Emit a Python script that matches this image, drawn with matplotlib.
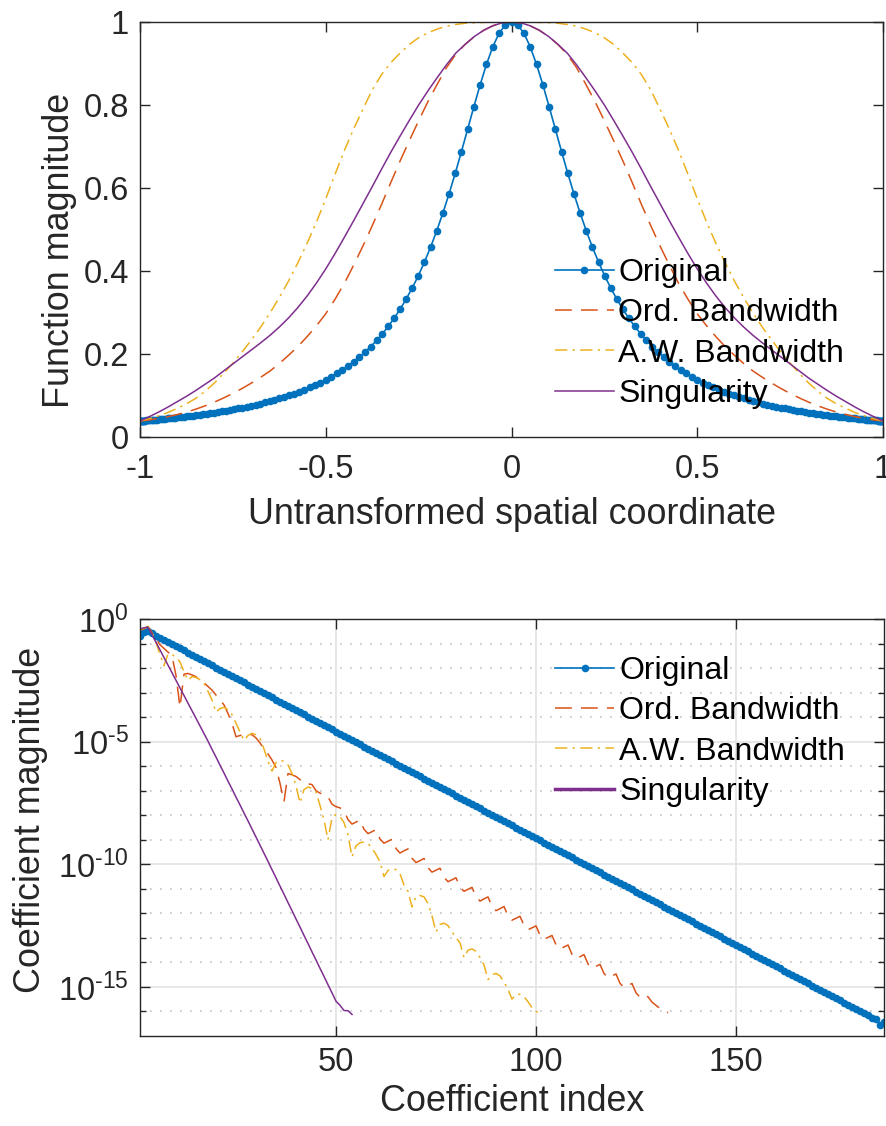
import numpy as np
import matplotlib
matplotlib.use("Agg")
import matplotlib.pyplot as plt

plt.rcParams['font.family'] = ['Liberation Sans', 'DejaVu Sans']
plt.rcParams['axes.unicode_minus'] = False
plt.rcParams['mathtext.fontset'] = 'custom'
plt.rcParams['mathtext.rm'] = 'Liberation Sans'

# ---- top panel: function on [0, 1] (curves are even, mirrored below) ----
cheb_half = [
    0.0000, 0.0169, 0.0338, 0.0506, 0.0675, 0.0843, 0.1012, 0.1180, 0.1347, 0.1514,
    0.1681, 0.1847, 0.2013, 0.2178, 0.2343, 0.2506, 0.2670, 0.2832, 0.2994, 0.3154,
    0.3314, 0.3473, 0.3631, 0.3788, 0.3943, 0.4098, 0.4252, 0.4404, 0.4555, 0.4704,
    0.4853, 0.5000, 0.5146, 0.5290, 0.5432, 0.5573, 0.5713, 0.5851, 0.5987, 0.6121,
    0.6254, 0.6385, 0.6514, 0.6641, 0.6766, 0.6890, 0.7011, 0.7131, 0.7248, 0.7363,
    0.7477, 0.7588, 0.7697, 0.7803, 0.7908, 0.8010, 0.8110, 0.8208, 0.8303, 0.8396,
    0.8486, 0.8575, 0.8660, 0.8744, 0.8824, 0.8902, 0.8978, 0.9051, 0.9122, 0.9190,
    0.9255, 0.9318, 0.9378, 0.9435, 0.9490, 0.9541, 0.9591, 0.9637, 0.9681, 0.9722,
    0.9760, 0.9795, 0.9828, 0.9858, 0.9885, 0.9909, 0.9930, 0.9949, 0.9964, 0.9977,
    0.9987, 0.9994, 0.9999, 1.0000]
orig_half = [
    1.0000, 0.9929, 0.9723, 0.9397, 0.8977, 0.8490, 0.7963, 0.7419, 0.6879, 0.6356,
    0.5860, 0.5397, 0.4968, 0.4575, 0.4216, 0.3890, 0.3595, 0.3328, 0.3086, 0.2868,
    0.2670, 0.2490, 0.2328, 0.2180, 0.2046, 0.1924, 0.1812, 0.1710, 0.1616, 0.1531,
    0.1452, 0.1379, 0.1312, 0.1251, 0.1194, 0.1141, 0.1092, 0.1046, 0.1004, 0.0965,
    0.0928, 0.0894, 0.0862, 0.0832, 0.0804, 0.0777, 0.0753, 0.0729, 0.0708, 0.0687,
    0.0668, 0.0650, 0.0633, 0.0616, 0.0601, 0.0587, 0.0573, 0.0561, 0.0548, 0.0537,
    0.0526, 0.0516, 0.0506, 0.0497, 0.0489, 0.0481, 0.0473, 0.0466, 0.0459, 0.0452,
    0.0446, 0.0440, 0.0435, 0.0430, 0.0425, 0.0421, 0.0417, 0.0413, 0.0409, 0.0406,
    0.0403, 0.0400, 0.0398, 0.0395, 0.0393, 0.0391, 0.0390, 0.0388, 0.0387, 0.0386,
    0.0385, 0.0385, 0.0385, 0.0385]

grid_half = [
    0.000, 0.025, 0.050, 0.075, 0.100, 0.125, 0.150, 0.175, 0.200, 0.225,
    0.250, 0.275, 0.300, 0.325, 0.350, 0.375, 0.400, 0.425, 0.450, 0.475,
    0.500, 0.525, 0.550, 0.575, 0.600, 0.625, 0.650, 0.675, 0.700, 0.725,
    0.750, 0.775, 0.800, 0.825, 0.850, 0.875, 0.900, 0.925, 0.950, 0.975, 1.000]
ord_half = [
    1.000, 0.998, 0.991, 0.980, 0.965, 0.946, 0.922, 0.890, 0.850, 0.808,
    0.762, 0.714, 0.665, 0.613, 0.560, 0.509, 0.460, 0.414, 0.370, 0.332,
    0.297, 0.268, 0.242, 0.218, 0.197, 0.177, 0.159, 0.144, 0.130, 0.117,
    0.105, 0.094, 0.084, 0.075, 0.067, 0.060, 0.054, 0.049, 0.045, 0.041, 0.0385]
aw_half = [
    1.000, 1.000, 1.000, 0.999, 0.998, 0.997, 0.994, 0.990, 0.983, 0.974,
    0.962, 0.946, 0.925, 0.902, 0.873, 0.836, 0.790, 0.742, 0.690, 0.633,
    0.574, 0.518, 0.467, 0.420, 0.376, 0.336, 0.299, 0.265, 0.234, 0.205,
    0.178, 0.153, 0.130, 0.110, 0.093, 0.080, 0.069, 0.059, 0.051, 0.044, 0.0385]
sing_half = [
    1.000, 0.998, 0.991, 0.980, 0.965, 0.946, 0.925, 0.897, 0.866, 0.834,
    0.800, 0.763, 0.725, 0.686, 0.645, 0.603, 0.562, 0.521, 0.481, 0.442,
    0.405, 0.371, 0.340, 0.312, 0.287, 0.265, 0.245, 0.227, 0.210, 0.193,
    0.176, 0.159, 0.142, 0.127, 0.112, 0.098, 0.085, 0.072, 0.060, 0.049, 0.0385]

# ---- bottom panel: log10 of Chebyshev coefficient magnitudes ----
orig_coef = [
    -0.70, -0.55, -0.500, -0.587, -0.674, -0.761, -0.848, -0.935, -1.022, -1.109,
    -1.196, -1.283, -1.370, -1.457, -1.544, -1.631, -1.718, -1.805, -1.892, -1.979,
    -2.066, -2.153, -2.240, -2.327, -2.414, -2.501, -2.588, -2.675, -2.762, -2.849,
    -2.936, -3.023, -3.110, -3.197, -3.284, -3.371, -3.458, -3.545, -3.632, -3.719,
    -3.806, -3.893, -3.980, -4.067, -4.154, -4.241, -4.328, -4.415, -4.502, -4.589,
    -4.676, -4.763, -4.850, -4.937, -5.024, -5.111, -5.198, -5.285, -5.372, -5.459,
    -5.546, -5.633, -5.720, -5.807, -5.894, -5.981, -6.068, -6.155, -6.242, -6.329,
    -6.416, -6.503, -6.590, -6.677, -6.764, -6.851, -6.938, -7.025, -7.112, -7.199,
    -7.286, -7.373, -7.460, -7.547, -7.634, -7.721, -7.808, -7.895, -7.982, -8.069,
    -8.156, -8.243, -8.330, -8.417, -8.504, -8.591, -8.678, -8.765, -8.852, -8.939,
    -9.026, -9.113, -9.200, -9.287, -9.374, -9.461, -9.548, -9.635, -9.722, -9.809,
    -9.896, -9.983, -10.070, -10.157, -10.244, -10.331, -10.418, -10.505, -10.592, -10.679,
    -10.766, -10.853, -10.940, -11.027, -11.114, -11.201, -11.288, -11.375, -11.462, -11.549,
    -11.636, -11.723, -11.810, -11.897, -11.984, -12.071, -12.158, -12.245, -12.332, -12.419,
    -12.506, -12.593, -12.680, -12.767, -12.854, -12.941, -13.028, -13.115, -13.202, -13.289,
    -13.376, -13.463, -13.550, -13.637, -13.724, -13.811, -13.898, -13.985, -14.072, -14.159,
    -14.246, -14.333, -14.420, -14.507, -14.594, -14.681, -14.768, -14.855, -14.942, -15.029,
    -15.116, -15.203, -15.290, -15.377, -15.464, -15.551, -15.638, -15.725, -15.812, -15.899,
    -15.986, -16.073, -16.160, -16.250, -16.300, -16.550, -16.420]
ord_coef = [
    -0.45, -0.40, -0.32, -0.55, -0.80, -1.05, -1.20, -1.35, -1.50, -2.30,
    -3.60, -2.25, -2.22, -2.28, -2.35, -2.48, -2.60, -2.75, -2.90, -3.10,
    -3.30, -3.50, -3.85, -4.25, -4.80, -4.75, -4.72, -4.68, -4.72, -4.85,
    -5.05, -5.30, -5.50, -5.75, -6.05, -6.70, -7.45, -6.30, -6.35, -6.42,
    -6.55, -6.70, -6.72, -6.75, -7.00, -7.10, -7.15, -7.25, -7.55, -7.65,
    -7.70, -7.80, -8.18, -8.36, -8.28, -8.20, -8.57, -8.75, -8.67, -8.59,
    -8.97, -9.14, -9.06, -8.98, -9.36, -9.54, -9.45, -9.37, -9.75, -9.93,
    -9.85, -9.76, -10.14, -10.32, -10.24, -10.16, -10.53, -10.71, -10.63, -10.55,
    -10.93, -11.10, -11.02, -10.94, -11.32, -11.50, -11.41, -11.33, -11.71, -11.89,
    -11.81, -11.72, -12.10, -12.28, -12.20, -12.12, -12.49, -12.67, -12.59, -12.51,
    -12.89, -13.06, -12.98, -12.90, -13.28, -13.46, -13.37, -13.29, -13.67, -13.85,
    -13.77, -13.68, -14.06, -14.24, -14.16, -14.08, -14.45, -14.63, -14.55, -14.47,
    -14.85, -15.02, -14.94, -14.86, -15.24, -15.42, -15.33, -15.40, -15.62, -15.75,
    -15.88, -15.97, -16.05]
aw_coef = [
    -0.42, -0.38, -0.30, -0.55, -0.95, -1.45, -1.90, -1.42, -1.45, -1.55,
    -1.75, -2.15, -2.50, -2.35, -2.38, -2.48, -2.62, -2.95, -3.30, -3.80,
    -3.65, -3.60, -3.70, -3.90, -4.25, -4.60, -4.95, -4.75, -4.66, -4.72,
    -4.85, -5.30, -5.80, -6.20, -5.85, -5.76, -5.80, -5.95, -6.30, -6.80,
    -7.50, -6.95, -6.85, -6.90, -7.05, -7.60, -8.20, -9.00, -8.10, -7.96,
    -8.05, -8.30, -8.80, -9.70, -9.25, -9.12, -9.09, -9.15, -9.35, -9.60,
    -9.90, -10.50, -10.25, -10.18, -10.22, -10.38, -10.85, -11.10, -11.74, -11.30,
    -11.27, -11.33, -11.60, -12.10, -12.76, -12.45, -12.40, -12.50, -12.75, -13.00,
    -13.20, -13.80, -13.50, -13.45, -13.55, -13.80, -14.10, -14.70, -14.50, -14.45,
    -14.55, -14.80, -15.10, -15.50, -15.30, -15.30, -15.40, -15.60, -15.85, -16.00,
    -16.05]
sing_coef = [
    -0.40, -0.36, -0.33, -0.64, -0.95, -1.26, -1.57, -1.88, -2.19, -2.50,
    -2.81, -3.12, -3.43, -3.74, -4.05, -4.36, -4.67, -4.98, -5.31, -5.63,
    -5.96, -6.28, -6.61, -6.93, -7.26, -7.58, -7.91, -8.23, -8.56, -8.89,
    -9.22, -9.55, -9.88, -10.22, -10.55, -10.89, -11.22, -11.56, -11.89, -12.23,
    -12.56, -12.90, -13.23, -13.57, -13.90, -14.24, -14.57, -14.91, -15.24, -15.58,
    -15.75, -15.96, -15.97, -16.12]

labels = ['Original', 'Ord. Bandwidth', 'A.W. Bandwidth', 'Singularity']

# MATLAB default colour order
blue, red, yellow, purple = '#0072BD', '#D95319', '#EDB120', '#7E2F8E'
dark = '#262626'
dash = (11, 6)
dashdot = (8, 3.5, 1.5, 3.5)


def mirror(xh, yh):
    xh, yh = np.asarray(xh), np.asarray(yh)
    return (np.concatenate((-xh[:0:-1], xh)), np.concatenate((yh[:0:-1], yh)))


def style_axes(ax):
    for s in ax.spines.values():
        s.set_color(dark)
        s.set_linewidth(1.0)
    ax.tick_params(which='both', direction='in', top=True, right=True,
                   colors=dark, labelsize=23.5, width=1.0)
    ax.tick_params(which='major', length=7)
    ax.tick_params(which='minor', length=4)


fig = plt.figure(figsize=(8.86, 11.26), dpi=100)
ax1 = fig.add_axes([140 / 886, 1 - 437 / 1126, 743 / 886, 415 / 1126])
ax2 = fig.add_axes([140 / 886, 1 - 1036 / 1126, 744 / 886, 417 / 1126])

# top panel
xo, yo = mirror(cheb_half, orig_half)
ax1.plot(xo, yo, color=blue, lw=1.2, marker='o', ms=5.5, mew=0, label=labels[0])
xg, yr = mirror(grid_half, ord_half)
ax1.plot(xg, yr, color=red, lw=1.1, dashes=dash, label=labels[1])
xg, yy = mirror(grid_half, aw_half)
ax1.plot(xg, yy, color=yellow, lw=1.1, dashes=dashdot, label=labels[2])
xg, yp = mirror(grid_half, sing_half)
ax1.plot(xg, yp, color=purple, lw=1.1, label=labels[3])

ax1.set_xlim(-1, 1)
ax1.set_ylim(0, 1)
ax1.set_xticks([-1, -0.5, 0, 0.5, 1])
ax1.set_xticklabels(['-1', '-0.5', '0', '0.5', '1'])
ax1.set_yticks([0, 0.2, 0.4, 0.6, 0.8, 1])
ax1.set_yticklabels(['0', '0.2', '0.4', '0.6', '0.8', '1'])
style_axes(ax1)
ax1.tick_params(axis='x', pad=12)
ax1.tick_params(axis='y', pad=8)
ax1.set_xlabel('Untransformed spatial coordinate', fontsize=25.8, color=dark)
ax1.set_ylabel('Function magnitude', fontsize=25.8, color=dark)
ax1.xaxis.set_label_coords(0.5, -0.145)
ax1.yaxis.set_label_coords(-0.085, 0.45)

leg1 = ax1.legend(loc='upper left', bbox_to_anchor=(0.558, 0.431), frameon=False,
                  fontsize=23, handlelength=1.85, handletextpad=0.15,
                  labelspacing=0.32, borderpad=0, borderaxespad=0, numpoints=1)

# bottom panel
n_o = np.arange(1, len(orig_coef) + 1)
n_r = np.arange(1, len(ord_coef) + 1)
n_a = np.arange(1, len(aw_coef) + 1)
n_s = np.arange(1, len(sing_coef) + 1)
ax2.semilogy(n_o, 10.0 ** np.array(orig_coef), color=blue, lw=1.2, marker='o',
             ms=5.5, mew=0, label=labels[0])
ax2.semilogy(n_r, 10.0 ** np.array(ord_coef), color=red, lw=1.1, dashes=dash,
             label=labels[1])
ax2.semilogy(n_a, 10.0 ** np.array(aw_coef), color=yellow, lw=1.1,
             dashes=dashdot, label=labels[2])
ax2.semilogy(n_s, 10.0 ** np.array(sing_coef), color=purple, lw=1.1, label=labels[3])

ax2.set_xlim(1, 187)
ax2.set_ylim(1e-17, 1)
ax2.set_xticks([50, 100, 150])
ax2.set_yticks([1e0, 1e-5, 1e-10, 1e-15])
ax2.set_yticklabels([r'$\mathregular{10^{0}}$', r'$\mathregular{10^{\text{-5}}}$',
                     r'$\mathregular{10^{\text{-10}}}$', r'$\mathregular{10^{\text{-15}}}$'])
ax2.set_yticks([10.0 ** -k for k in range(17) if k % 5], minor=True)
ax2.yaxis.set_minor_formatter(matplotlib.ticker.NullFormatter())
style_axes(ax2)
ax2.tick_params(axis='x', pad=8)
ax2.tick_params(axis='y', pad=8)
ax2.set_axisbelow(True)
ax2.grid(True, which='major', color='#e3e3e3', lw=1.2, ls='-')
ax2.grid(True, which='minor', axis='y', color='#c4c4c4', lw=1.2, ls=(0, (1, 5)))
ax2.set_xlabel('Coefficient index', fontsize=25.8, color=dark)
ax2.set_ylabel('Coefficient magnitude', fontsize=25.8, color=dark)
ax2.xaxis.set_label_coords(0.5, -0.115)
ax2.yaxis.set_label_coords(-0.124, 0.518)

leg2 = ax2.legend(loc='upper left', bbox_to_anchor=(0.558, 0.911), frameon=False,
                  fontsize=23, handlelength=1.85, handletextpad=0.15,
                  labelspacing=0.32, borderpad=0, borderaxespad=0, numpoints=1)
leg2.get_lines()[3].set_linewidth(2.5)

fig.savefig('out.png', dpi=100)
